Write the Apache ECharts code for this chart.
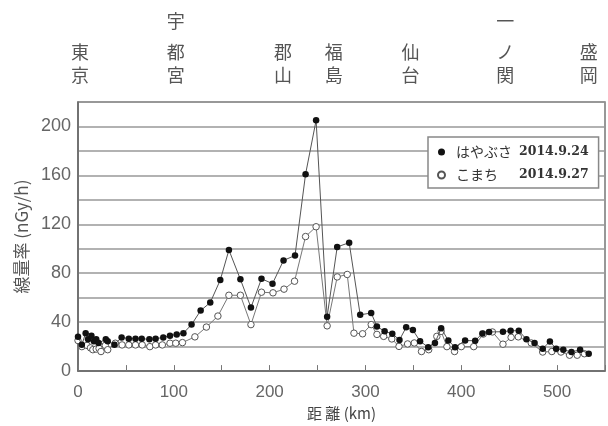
<!DOCTYPE html>
<html><head><meta charset="utf-8">
<script src="https://cdn.jsdelivr.net/npm/echarts@6/dist/echarts.min.js"></script>
<style>html,body{margin:0;padding:0;background:#fff}#c{width:608px;height:426px}</style>
</head><body><div id="c"></div>
<script>
// はやぶさ 2014.9.24 (filled)
const kmHayabusa = [0, 4, 8, 10.5, 14, 16.6, 19, 21.5, 29, 31, 38, 45.5, 53, 60, 66.5, 74.5, 81, 89, 96, 103, 110, 118.5, 128, 138, 148.5, 157.5, 169.5, 180.5, 191.5, 203, 214.5, 226.5, 237.5, 248.5, 260, 270.5, 283, 294.5, 306, 312, 320, 328, 335.5, 342.5, 349.5, 357, 365.5, 372.5, 379, 386.5, 393.5, 404, 414.5, 422, 429, 443.5, 451.5, 460, 468, 476.5, 485, 492.5, 499, 506.5, 515, 524, 533];
const doseHayabusa = [28, 21.5, 31, 26, 29, 24.5, 26, 23, 26, 24.5, 21.5, 27.5, 26.5, 26.5, 26.5, 26, 26.5, 27.5, 29, 30, 31, 38, 49.5, 56, 74.5, 99, 75, 52, 75.5, 71.5, 90.5, 94.5, 161, 205, 44.5, 101.5, 105, 46, 47.5, 36.5, 32.5, 30.5, 25.5, 35.8, 33.5, 24.5, 19.5, 23, 35, 25, 19.5, 25, 24.8, 30.8, 32, 32.2, 33, 33, 26, 22.9, 18.3, 24.2, 18.3, 17.5, 15.6, 17.5, 14.2];
// こまち 2014.9.27 (open)
const kmKomachi = [0, 4, 9.5, 13, 15.5, 19, 22, 24, 28.5, 31, 39, 46, 53, 60, 67, 75, 81, 88, 96, 102, 109, 122, 134, 146, 157.5, 169.5, 180.5, 191.5, 203.5, 215, 226, 237.5, 248.5, 260, 270.5, 281, 288, 297, 306, 312, 319, 327.5, 335, 344, 351, 358.5, 366, 374.5, 379, 385, 393, 400, 413, 423, 432.5, 443.5, 452, 459.5, 473, 485, 494.5, 504, 513, 521, 528.5];
const doseKomachi = [25, 20, 21, 19, 17.5, 18, 18.5, 16, 21, 17.5, 22.8, 21.4, 21.4, 21.4, 21.4, 20, 21.4, 21.4, 22.8, 22.8, 23.3, 28, 36, 45, 62, 62, 38, 64.5, 64, 67, 73.5, 110, 118, 37, 77, 79, 31, 30.5, 38, 30, 28.4, 26.3, 20.2, 22.2, 23, 16, 17.5, 28.4, 32.5, 20, 16, 20, 20, 30.3, 32, 22, 27.6, 28, 23, 15.6, 16, 15.6, 13, 13, 14.2];

const seriesNames = ['はやぶさ', 'こまち'];
const seriesDates = ['2014.9.24', '2014.9.27'];
const stationNames = ['東京', '宇都宮', '郡山', '福島', '仙台', '一ノ関', '盛岡'];
const stationKm = [2, 102, 214, 267, 347, 446, 533];

const zip = (a, b) => a.map((v, i) => [v, b[i]]);
const chart = echarts.init(document.getElementById('c'), null, {renderer: 'canvas'});
const sans = 'Liberation Sans, Arial, sans-serif';
const cjk = '"Noto Sans CJK JP", sans-serif';

chart.setOption({
  animation: false,
  backgroundColor: '#fff',
  grid: {left: 78, top: 102, bottom: 54.5, right: -9, show: true, borderColor: '#777', borderWidth: 1.5, backgroundColor: 'transparent'},
  xAxis: {
    type: 'value', min: 0, max: 550, interval: 50,
    name: '距 離 (km)', nameLocation: 'middle', nameGap: 30,
    nameTextStyle: {fontFamily: cjk, fontSize: 15, color: '#444'},
    axisLine: {lineStyle: {color: '#666', width: 1.5}},
    axisTick: {show: true, inside: true, length: 6, lineStyle: {color: '#777', width: 1}},
    axisLabel: {margin: 13, fontFamily: sans, fontSize: 17, color: '#666', formatter: v => (v % 100 === 0 ? String(v) : '')},
    splitLine: {show: false}
  },
  yAxis: {
    type: 'value', min: 0, max: 220, interval: 20,
    name: '線量率 (nGy/h)', nameLocation: 'middle', nameRotate: 90, nameGap: 45,
    nameTextStyle: {fontFamily: cjk, fontSize: 17, color: '#555'},
    axisLine: {show: true, lineStyle: {color: '#666', width: 1.5}},
    axisTick: {show: false},
    axisLabel: {margin: 7, fontFamily: sans, fontSize: 18, color: '#666', formatter: v => (v % 40 === 0 && v <= 200 ? String(v) : '')},
    splitLine: {show: true, lineStyle: {color: '#999', width: 1.5}}
  },
  legend: {
    orient: 'vertical', left: 428, top: 137,
    padding: [8, 10, 6, 9], itemGap: 9,
    itemWidth: 7, itemHeight: 7,
    backgroundColor: '#fff', borderColor: '#888', borderWidth: 1.5,
    data: [{name: seriesNames[0], icon: 'circle'}, {name: seriesNames[1], icon: 'circle'}],
    formatter: name => '{n|' + name + '}{d|' + seriesDates[seriesNames.indexOf(name)] + '}',
    textStyle: {
      padding: [0, 0, 0, 6],
      rich: {
        n: {width: 63, fontFamily: cjk, fontSize: 14, color: '#333'},
        d: {fontFamily: 'DejaVu Serif, serif', fontWeight: 'bold', fontSize: 12.5, color: '#333'}
      }
    }
  },
  series: [
    {
      name: seriesNames[1], type: 'line', data: zip(kmKomachi, doseKomachi),
      symbol: 'circle', symbolSize: 6.5,
      lineStyle: {color: '#777', width: 1},
      itemStyle: {color: '#fff', borderColor: '#555', borderWidth: 1}, z: 2
    },
    {
      name: seriesNames[0], type: 'line', data: zip(kmHayabusa, doseHayabusa),
      symbol: 'circle', symbolSize: 6.5,
      lineStyle: {color: '#555', width: 1},
      itemStyle: {color: '#111', borderColor: '#111', borderWidth: 0}, z: 3
    }
  ]
});

const rowY = [21, 52, 75];
const els = [];
stationNames.forEach((name, si) => {
  const px = chart.convertToPixel({xAxisIndex: 0}, stationKm[si]);
  const chars = Array.from(name);
  chars.forEach((ch, ci) => {
    els.push({
      type: 'text', x: px, y: rowY[rowY.length - chars.length + ci],
      style: {text: ch, fill: '#555', font: '18px "Noto Sans CJK JP"', align: 'center', verticalAlign: 'middle', textAlign: 'center', textVerticalAlign: 'middle'}
    });
  });
});
chart.setOption({graphic: els});
</script></body></html>
